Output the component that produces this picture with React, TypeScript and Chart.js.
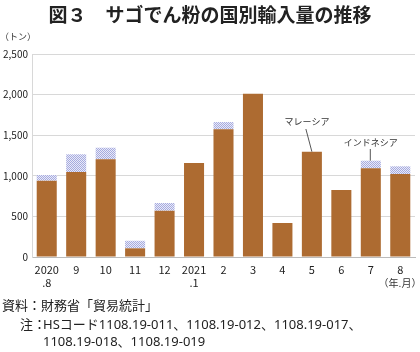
import React, { useEffect, useRef } from "react";
import { Chart, registerables } from "chart.js";
Chart.register(...registerables);

const categories: string[][] = [
  ["2020", ".8"], ["9"], ["10"], ["11"], ["12"], ["2021", ".1"], ["2"], ["3"], ["4"], ["5"], ["6"], ["7"], ["8"],
];
const malaysia = [940, 1047, 1203, 107, 570, 1158, 1572, 2010, 419, 1297, 825, 1092, 1022];
const indonesia = [70, 218, 143, 93, 95, 0, 90, 0, 0, 0, 0, 94, 95];
const yTicks = [0, 500, 1000, 1500, 2000, 2500];
const title = "図３　サゴでん粉の国別輸入量の推移";
const unitLabel = "（トン）";
const periodLabel = "（年.月）";
const sourceNote = "資料：財務省「貿易統計」";
const noteHead = "注：";
const noteLines = ["HSコード1108.19-011、1108.19-012、1108.19-017、", "1108.19-018、1108.19-019"];

const FONT = "'Noto Sans CJK JP', 'Noto Sans', sans-serif";
const NOTE_FONT = "'Noto Sans', 'Noto Sans CJK JP', sans-serif";

function makePattern(): CanvasPattern | string {
  const c = document.createElement("canvas");
  c.width = 2;
  c.height = 2;
  const g = c.getContext("2d");
  if (!g) return "#c8cbea";
  g.fillStyle = "#e9eaf8";
  g.fillRect(0, 0, 2, 2);
  g.fillStyle = "#a6abdf";
  g.fillRect(0, 0, 1, 1);
  g.fillRect(1, 1, 1, 1);
  const p = g.createPattern(c, "repeat");
  return p || "#c8cbea";
}

export default function App() {
  const ref = useRef<HTMLCanvasElement>(null);
  useEffect(() => {
    if (!ref.current) return;
    const overlay = {
      id: "overlay",
      afterDraw(chart: any) {
        const ctx = chart.ctx as CanvasRenderingContext2D;
        const x = chart.scales.x;
        const y = chart.scales.y;
        ctx.save();
        ctx.fillStyle = "#222";
        ctx.textAlign = "center";
        ctx.textBaseline = "middle";
        ctx.font = `bold 19px ${FONT}`;
        ctx.fillText(title, 210, 15);
        ctx.font = `9px ${FONT}`;
        ctx.fillStyle = "#333";
        ctx.fillText(unitLabel, 18, 37);
        ctx.font = `10px ${FONT}`;
        ctx.fillText(periodLabel, 400, 283);
        // annotations
        ctx.font = `9px ${FONT}`;
        const mx = x.getPixelForValue(9);
        const mTop = y.getPixelForValue(malaysia[9]);
        ctx.fillText("マレーシア", mx - 5, 122);
        const ix = x.getPixelForValue(11);
        const iTop = y.getPixelForValue(malaysia[11] + indonesia[11]);
        ctx.fillText("インドネシア", ix, 143);
        ctx.strokeStyle = "#555";
        ctx.lineWidth = 1;
        ctx.beginPath();
        ctx.moveTo(mx - 6, 129);
        ctx.lineTo(mx, mTop);
        ctx.moveTo(ix - 0.5, 149);
        ctx.lineTo(ix - 0.5, iTop);
        ctx.stroke();
        // notes
        ctx.textAlign = "left";
        ctx.font = `13px ${NOTE_FONT}`;
        ctx.fillStyle = "#222";
        ctx.fillText(sourceNote, 2, 306);
        ctx.fillText(noteHead, 20, 325);
        ctx.fillText(noteLines[0], 43, 325);
        ctx.fillText(noteLines[1], 43, 342);
        ctx.restore();
      },
    };
    const chart = new Chart(ref.current, {
      type: "bar",
      data: {
        labels: categories,
        datasets: [
          { label: "マレーシア", data: malaysia, backgroundColor: "#ad6b31", barPercentage: 0.68, categoryPercentage: 1 },
          { label: "インドネシア", data: indonesia, backgroundColor: makePattern() as any, barPercentage: 0.68, categoryPercentage: 1 },
        ],
      },
      options: {
        animation: false,
        responsive: false,
        layout: { padding: { left: 0, right: 5, top: 54, bottom: 0 } },
        plugins: { legend: { display: false }, title: { display: false }, tooltip: { enabled: false } },
        scales: {
          x: {
            stacked: true,
            grid: { display: false, drawTicks: false },
            border: { color: "#bbb" },
            ticks: { color: "#222", font: { size: 11, family: FONT }, padding: 6, maxRotation: 0, autoSkip: false },
            afterFit: (s: any) => { s.height = 95; },
          },
          y: {
            stacked: true,
            min: 0,
            max: 2500,
            afterBuildTicks: (s: any) => { s.ticks = yTicks.map((v) => ({ value: v })); },
            grid: { color: "#d8d8d8", drawTicks: false },
            border: { color: "#d8d8d8" },
            ticks: {
              color: "#222",
              font: { size: 10, family: FONT },
              padding: 4,
              callback: (v: any) => Number(v).toLocaleString("en-US"),
            },
            afterFit: (s: any) => { s.width = 32; },
          },
        },
      },
      plugins: [overlay],
    });
    return () => chart.destroy();
  }, []);
  return (
    <div style={{ position: "fixed", left: 0, top: 0, width: 420, height: 352, background: "#fff" }}>
      <canvas ref={ref} width={420} height={352} />
    </div>
  );
}
